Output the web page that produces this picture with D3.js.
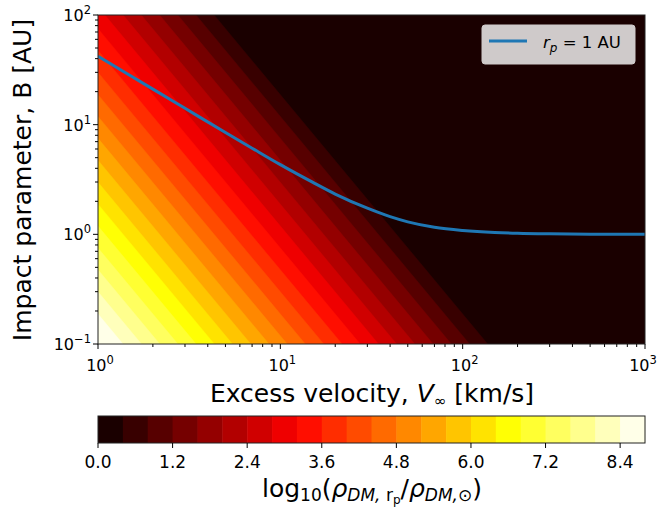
<!DOCTYPE html>
<html>
<head>
<meta charset="utf-8">
<script src="https://cdn.jsdelivr.net/npm/d3@7"></script>
<style>
  body { margin: 0; background: #fff; }
  text { font-family: "DejaVu Sans", sans-serif; fill: #000; }
</style>
</head>
<body>
<svg id="paper" width="660" height="508"></svg>
<script>
// contour levels of log10(rho ratio)
var levels = [0.0, 0.4, 0.8, 1.2, 1.6, 2.0, 2.4, 2.8, 3.2, 3.6, 4.0, 4.4,
              4.8, 5.2, 5.6, 6.0, 6.4, 6.8, 7.2, 7.6, 8.0, 8.4, 8.8];
// V (km/s) where each level boundary (0.4 ... 8.4) meets the bottom edge B = 0.1 AU
var bottomCrossV = [137, 109, 86.6, 68.8, 54.6, 43.4, 34.5, 27.4, 21.8, 17.3, 13.7,
                    10.9, 8.66, 6.88, 5.46, 4.34, 3.45, 2.74, 2.18, 1.73, 1.37];
// iso-lines run at this slope in log B per log V
var isoSlope = -2;

// r_p = 1 AU curve
var curveV = [1, 1.5, 2, 3, 5, 7, 10, 15, 20, 30, 40, 50, 70, 100, 150, 200, 300, 500, 1000];
var curveB = [42.1, 28.1, 21.1, 14.1, 8.48, 6.10, 4.32, 2.99, 2.33, 1.73, 1.45, 1.30,
              1.16, 1.085, 1.039, 1.022, 1.010, 1.0035, 1.0009];

var xMajor = [1, 10, 100, 1000];
var yMajor = [0.1, 1, 10, 100];
var cbTicks = [0.0, 1.2, 2.4, 3.6, 4.8, 6.0, 7.2, 8.4];

// matplotlib "hot"
function hot(t) {
  var r = t < 0.365079 ? 0.0416 + (1 - 0.0416) * t / 0.365079 : 1;
  var g = t < 0.365079 ? 0 : (t < 0.746032 ? (t - 0.365079) / (0.746032 - 0.365079) : 1);
  var b = t < 0.746032 ? 0 : (t - 0.746032) / (1 - 0.746032);
  return d3.rgb(r * 255, g * 255, b * 255).toString();
}
var vmax = levels[levels.length - 1];
var bandColor = d3.range(levels.length - 1).map(k => hot((levels[k] + levels[k + 1]) / 2 / vmax));

var svg = d3.select("#paper");
var L = 98, R = 645, T = 15, B = 344;

var x = d3.scaleLog().domain([1, 1000]).range([L, R]);
var y = d3.scaleLog().domain([0.1, 100]).range([B, T]);

svg.append("defs").append("clipPath").attr("id", "plotclip")
  .append("rect").attr("x", L).attr("y", T).attr("width", R - L).attr("height", B - T);

var field = svg.append("g").attr("clip-path", "url(#plotclip)");

// lowest band fills everything, higher bands painted over on the lower-left side
field.append("rect").attr("x", L).attr("y", T).attr("width", R - L).attr("height", B - T)
  .attr("fill", bandColor[0]);

bottomCrossV.forEach((v, i) => {
  var lv = Math.log10(v);
  var p = t => [Math.pow(10, lv + t), Math.pow(10, -1 + isoSlope * t)];
  var pts = [p(-3), p(3), [1e-8, 1e-8]];
  field.append("path")
    .attr("d", d3.line().curve(d3.curveLinearClosed)(pts.map(d => [x(d[0]), y(d[1])])))
    .attr("fill", bandColor[i + 1])
    .attr("stroke", bandColor[i + 1])
    .attr("stroke-width", 0.5);
});

// r_p curve
var curve = curveV.map((v, i) => [v, curveB[i]]);
field.append("path")
  .attr("d", d3.line().x(d => x(d[0])).y(d => y(d[1])).curve(d3.curveMonotoneX)(curve))
  .attr("fill", "none")
  .attr("stroke", "#1f77b4")
  .attr("stroke-width", 3);

// frame
svg.append("rect").attr("x", L).attr("y", T).attr("width", R - L).attr("height", B - T)
  .attr("fill", "none").attr("stroke", "#222").attr("stroke-width", 1);

// ticks
var minor = [];
[1, 10, 100].forEach(d => { for (var m = 2; m < 10; m++) minor.push(d * m); });
var yMinor = [];
[0.1, 1, 10].forEach(d => { for (var m = 2; m < 10; m++) yMinor.push(d * m); });

var ax = svg.append("g").attr("stroke", "#000").attr("stroke-width", 1);
xMajor.forEach(v => ax.append("line").attr("x1", x(v)).attr("x2", x(v)).attr("y1", B).attr("y2", B + 5));
minor.forEach(v => ax.append("line").attr("x1", x(v)).attr("x2", x(v)).attr("y1", B).attr("y2", B + 3));
yMajor.forEach(v => ax.append("line").attr("y1", y(v)).attr("y2", y(v)).attr("x1", L).attr("x2", L - 5));
yMinor.forEach(v => ax.append("line").attr("y1", y(v)).attr("y2", y(v)).attr("x1", L).attr("x2", L - 3));

function powLabel(g, v, px, py, anchor) {
  var e = Math.round(Math.log10(v));
  var t = g.append("text").attr("x", px).attr("y", py).attr("text-anchor", anchor)
    .style("font-size", "16px");
  t.append("tspan").text("10");
  t.append("tspan").attr("dy", -7).style("font-size", "11.5px").text(e < 0 ? "\u2212" + (-e) : e);
}
xMajor.forEach(v => powLabel(svg, v, Math.min(x(v) + 2, 643), 371, "middle"));
yMajor.forEach(v => powLabel(svg, v, L - 7, y(v) + 6, "end"));

// axis labels
svg.append("text").attr("x", 372).attr("y", 402).attr("text-anchor", "middle")
  .style("font-size", "25px")
  .html('Excess velocity, <tspan font-style="italic">V</tspan><tspan dy="4" font-size="15px">\u221e</tspan><tspan dy="-4"> [km/s]</tspan>');
svg.append("text").attr("transform", "translate(31,180) rotate(-90)").attr("text-anchor", "middle")
  .style("font-size", "25px").text("Impact parameter, B [AU]");

// legend
var lg = svg.append("g");
lg.append("rect").attr("x", 482).attr("y", 25).attr("width", 153).attr("height", 39).attr("rx", 3)
  .attr("fill", "#cfcaca").attr("stroke", "#cfcaca");
lg.append("line").attr("x1", 489).attr("x2", 527).attr("y1", 41).attr("y2", 41)
  .attr("stroke", "#1f77b4").attr("stroke-width", 3);
lg.append("text").attr("x", 543).attr("y", 48).style("font-size", "16.5px")
  .html('<tspan font-style="italic">r</tspan><tspan dy="4" font-size="12px" font-style="italic">p</tspan><tspan dy="-4"> = 1 AU</tspan>');

// colorbar
var cbT = 416, cbH = 27;
var cx = d3.scaleLinear().domain([0, vmax]).range([L, R]);
var cb = svg.append("g");
bandColor.forEach((c, k) => {
  cb.append("rect").attr("x", cx(levels[k])).attr("y", cbT)
    .attr("width", cx(levels[k + 1]) - cx(levels[k]) + 0.5).attr("height", cbH).attr("fill", c);
});
cb.append("rect").attr("x", L).attr("y", cbT).attr("width", R - L).attr("height", cbH)
  .attr("fill", "none").attr("stroke", "#222");
cbTicks.forEach(v => {
  cb.append("line").attr("x1", cx(v)).attr("x2", cx(v)).attr("y1", cbT + cbH).attr("y2", cbT + cbH + 5)
    .attr("stroke", "#000");
  cb.append("text").attr("x", cx(v)).attr("y", 468).attr("text-anchor", "middle")
    .style("font-size", "17px").text(v.toFixed(1));
});
svg.append("text").attr("x", 372).attr("y", 497).attr("text-anchor", "middle")
  .style("font-size", "25px")
  .html('log<tspan dy="4" font-size="17px">10</tspan><tspan dy="-4">(</tspan>' +
        '<tspan font-style="italic">\u03c1</tspan><tspan dy="4" font-size="17px" font-style="italic">DM,</tspan>' +
        '<tspan font-size="17px"> r</tspan><tspan dy="3" font-size="12px">p</tspan>' +
        '<tspan dy="-7">/</tspan><tspan font-style="italic">\u03c1</tspan>' +
        '<tspan dy="4" font-size="17px" font-style="italic">DM,</tspan><tspan font-size="17px">\u2299</tspan>' +
        '<tspan dy="-4">)</tspan>');
</script>
</body>
</html>
